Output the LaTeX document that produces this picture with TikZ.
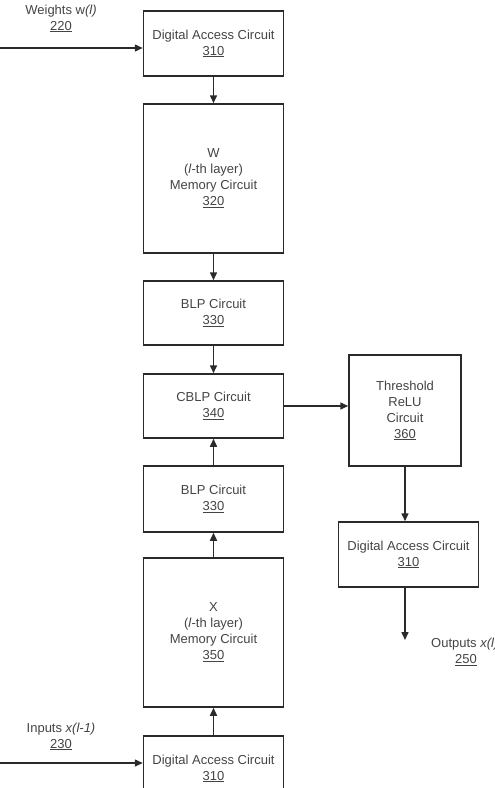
\documentclass[tikz,border=0pt]{standalone}
\usepackage{fontspec}
\setmainfont{Liberation Sans}
\usetikzlibrary{arrows.meta}
\definecolor{txt}{HTML}{444444}
\definecolor{ln}{HTML}{2A2A2A}
\begin{document}
\begin{tikzpicture}[x=1pt,y=-1pt,
  font=\fontsize{13}{16}\selectfont,
  blk/.style={draw=ln,line width=1.5pt,minimum width=140pt,align=center,text=txt,inner sep=0pt},
  lbl/.style={align=center,text=txt,inner sep=0pt},
  arr/.style={draw=ln,line width=1.5pt,-{Triangle[length=8pt,width=7pt]}}]
\useasboundingbox (0,0) rectangle (495,788);
\node[blk,minimum height=65pt] (da1) at (213.5,43.5) {Digital Access Circuit\\\underline{310}};
\node[blk,minimum height=149pt] (wm) at (213.5,178.5) {W\\(\textit{l}-th layer)\\Memory Circuit\\\underline{320}};
\node[blk,minimum height=64pt] (blp1) at (213.5,313) {BLP Circuit\\\underline{330}};
\node[blk,minimum height=64pt] (cblp) at (213.5,406) {CBLP Circuit\\\underline{340}};
\node[blk,minimum height=66pt] (blp2) at (213.5,499) {BLP Circuit\\\underline{330}};
\node[blk,minimum height=149pt] (xm) at (213.5,632.5) {X\\(\textit{l}-th layer)\\Memory Circuit\\\underline{350}};
\node[blk,minimum height=65pt] (da3) at (213.5,768.5) {Digital Access Circuit\\\underline{310}};
\node[blk,minimum width=112pt,minimum height=111pt] (thr) at (405,410.5) {Threshold\\ReLU\\Circuit\\\underline{360}};
\node[blk,minimum height=65pt] (da2) at (408.5,554.5) {Digital Access Circuit\\\underline{310}};
\node[lbl] (wl) at (61,18.5) {Weights w\textit{(l)}\\\underline{220}};
\node[lbl] (il) at (61,736.5) {Inputs \textit{x(l-1)}\\\underline{230}};
\node[lbl,anchor=west] (ol) at (431,644) {Outputs \textit{x(l)}};
\node[lbl] (on) at (466,660) {\underline{250}};
\coordinate (win) at (0,48);
\coordinate (xin) at (0,763);
\coordinate (out) at (405,640);
\draw[arr] (win) -- (win -| da1.west);
\draw[arr] (xin) -- (xin -| da3.west);
\draw[arr] (da1) -- (wm);
\draw[arr] (wm) -- (blp1);
\draw[arr] (blp1) -- (cblp);
\draw[arr] (blp2) -- (cblp);
\draw[arr] (xm) -- (blp2);
\draw[arr] (da3) -- (xm);
\draw[arr] (cblp.east) -- (cblp.east -| thr.west);
\draw[arr] (thr.south) -- (thr.south |- da2.north);
\draw[arr] (da2.south -| out) -- (out);
\end{tikzpicture}
\end{document}
